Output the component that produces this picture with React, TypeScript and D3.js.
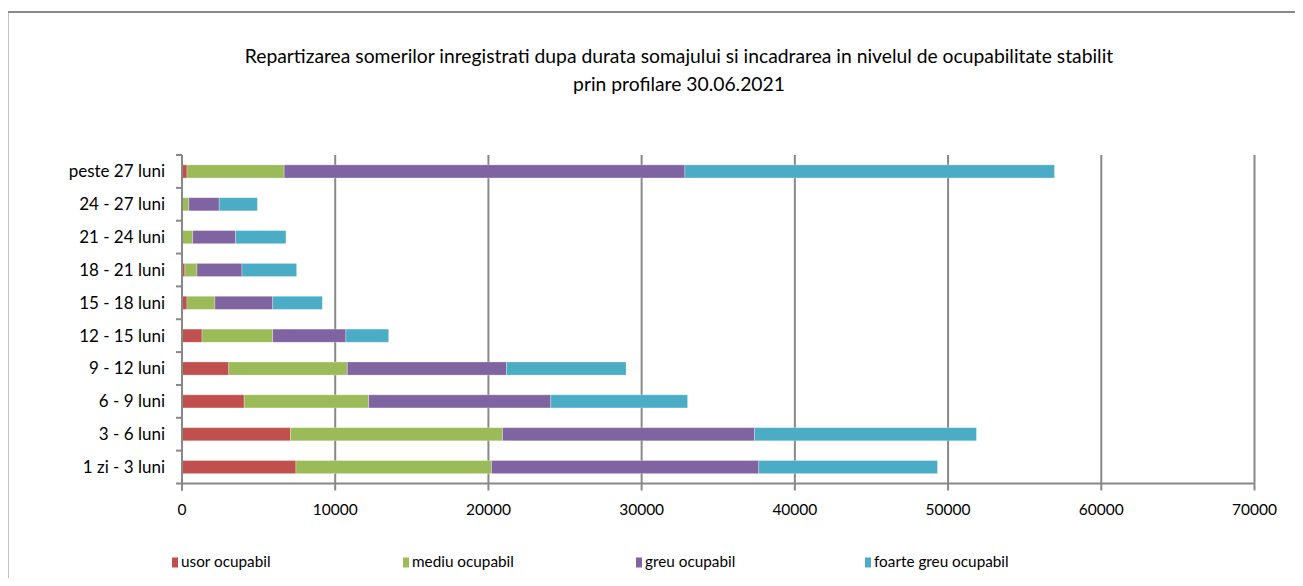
import React from "react";
import * as d3 from "d3";

const categories = [
  "peste 27 luni",
  "24 - 27 luni",
  "21 - 24 luni",
  "18 - 21 luni",
  "15 - 18 luni",
  "12 - 15 luni",
  "9 - 12 luni",
  "6 - 9 luni",
  "3 - 6 luni",
  "1 zi - 3 luni",
];

const seriesNames = ["usor ocupabil", "mediu ocupabil", "greu ocupabil", "foarte greu ocupabil"];
const usor = [326, 20, 30, 189, 326, 1305, 3053, 4057, 7084, 7436];
const mediu = [6341, 424, 674, 791, 1820, 4618, 7736, 8128, 13842, 12766];
const greu = [26157, 1983, 2793, 2934, 3777, 4775, 10392, 11885, 16445, 17443];
const foarte = [24123, 2491, 3287, 3568, 3236, 2792, 7802, 8930, 14481, 11664];
const xTicks = [0, 10000, 20000, 30000, 40000, 50000, 60000, 70000];
const colors = ["#C0504D", "#9BBB59", "#8064A2", "#4BACC6"];
const titleLines = [
  "Repartizarea somerilor inregistrati dupa  durata somajului si incadrarea in nivelul de ocupabilitate stabilit",
  "prin profilare 30.06.2021",
];

const W = 1303;
const H = 586;
const FONT = "Lato, 'Open Sans', sans-serif";

export default function App() {
  const left = 182;
  const right = 1254.5;
  const top = 155;
  const bottom = 483.5;
  const x = d3.scaleLinear().domain([0, 70000]).range([left, right]);
  const y = d3.scaleBand().domain(categories).range([top, bottom]).paddingInner(0.6).paddingOuter(0.3);
  const data = categories.map((c, i) => ({
    cat: c,
    v0: usor[i],
    v1: mediu[i],
    v2: greu[i],
    v3: foarte[i],
  }));
  const stack = d3.stack<any>().keys(["v0", "v1", "v2", "v3"])(data);
  const step = (bottom - top) / categories.length;
  const legendX = [172, 403, 636, 865];

  return (
    <div style={{ margin: -8 }}>
      <svg width={W} height={H} style={{ display: "block", background: "#fff" }} fontFamily={FONT}>
        <rect x={7.5} y={12} width={W + 10} height={H + 10} fill="#fff" stroke="#888" strokeWidth={2} />
        {titleLines.map((t, i) => (
          <text
            key={i}
            x={679}
            y={63 + i * 28}
            textAnchor="middle"
            fontSize={19.3}
            fill="#000"
          >
            {t}
          </text>
        ))}
        {xTicks.slice(1).map((t) => (
          <line key={t} x1={x(t)} x2={x(t)} y1={top} y2={bottom} stroke="#888" strokeWidth={2} />
        ))}
        {stack.map((s, si) => (
          <g key={si} fill={colors[si]}>
            {s.map((d, i) => (
              <rect
                key={i}
                x={x(d[0])}
                y={y(categories[i])!}
                width={Math.max(0, x(d[1]) - x(d[0]))}
                height={y.bandwidth()}
                stroke="rgba(255,255,255,0.35)"
                strokeWidth={0.8}
              />
            ))}
          </g>
        ))}
        {/* y axis */}
        <line x1={left} x2={left} y1={top} y2={bottom + 7} stroke="#888" strokeWidth={2} />
        {d3.range(categories.length + 1).map((k) => (
          <line key={k} x1={left - 6} x2={left} y1={top + k * step} y2={top + k * step} stroke="#888" strokeWidth={2} />
        ))}
        {categories.map((c) => (
          <text
            key={c}
            x={165}
            y={y(c)! + y.bandwidth() / 2}
            dy="0.35em"
            textAnchor="end"
            fontSize={17}
            fill="#000"
          >
            {c}
          </text>
        ))}
        {/* x axis */}
        <line x1={left} x2={right} y1={bottom} y2={bottom} stroke="#888" strokeWidth={2} />
        {xTicks.map((t) => (
          <g key={t}>
            <line x1={x(t)} x2={x(t)} y1={bottom} y2={bottom + 7} stroke="#888" strokeWidth={2} />
            <text x={x(t)} y={510} dy="0.35em" textAnchor="middle" fontSize={15.5} fill="#000">
              {d3.format("d")(t)}
            </text>
          </g>
        ))}
        {/* legend */}
        {seriesNames.map((n, i) => (
          <g key={n}>
            <rect x={legendX[i]} y={557.5} width={6} height={10} fill={colors[i]} />
            <text x={legendX[i] + 9} y={562} dy="0.35em" fontSize={15.3} fill="#000">
              {n}
            </text>
          </g>
        ))}
      </svg>
    </div>
  );
}
